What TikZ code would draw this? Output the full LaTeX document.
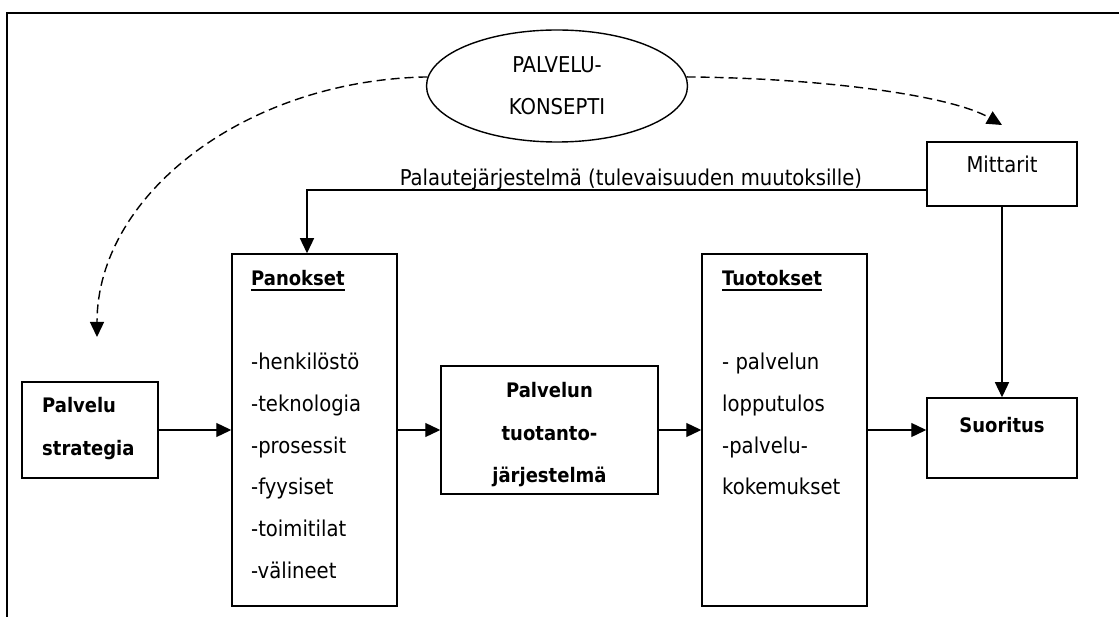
\documentclass[tikz,border=0pt]{standalone}
\usepackage{fontspec}
\setmainfont{DejaVu Sans Condensed}
\usetikzlibrary{arrows.meta,shapes.geometric,calc}

% underlined word with a heavier rule
\newcommand\ulword[1]{\setbox0\hbox{#1}\rlap{\rule[-5pt]{\wd0}{1.8pt}}\box0}

\begin{document}
\begin{tikzpicture}[x=1pt,y=-1pt,
  every node/.style={font=\fontsize{21.8}{42}\selectfont},
  box/.style={draw, line width=1.5pt, inner sep=0pt},
  txt/.style={inner sep=0pt},
  bold/.style={inner sep=0pt, font=\fontsize{20}{42}\selectfont\bfseries},
  arr/.style={line width=1.3pt, -{Triangle[length=15pt,width=14pt]}},
  dashlink/.style={line width=1.4pt, dash pattern=on 9pt off 5pt, -{Triangle[length=15pt,width=14pt]}}]

\useasboundingbox (0,0) rectangle (1119,617);
\draw[line width=1.7pt] (7,640) -- (7,13) -- (1140,13);

% service concept
\node[ellipse, draw, line width=1.4pt, minimum width=261pt, minimum height=112pt,
      inner sep=0pt, align=center] (kon) at (557,86) {PALVELU-\\KONSEPTI};

% boxes
\node[box, minimum width=136pt, minimum height=96pt]  (strat) at (90,430) {};
\node[box, minimum width=165pt, minimum height=352pt] (pan)   at (314.5,430) {};
\node[box, minimum width=217pt, minimum height=128pt] (prod)  at (549.5,430) {};
\node[box, minimum width=165pt, minimum height=352pt] (tuo)   at (784.5,430) {};
\node[box, minimum width=150pt, minimum height=64pt]  (mit)   at (1002,174) {};
\node[box, minimum width=150pt, minimum height=80pt]  (suo)   at (1002,438) {};

% box texts
\node[bold, anchor=base west] (strat1) at (42,413) {Palvelu};
\node[bold, anchor=base west] (strat2) at (42,455) {strategia};

\node[bold, anchor=base west] (pant) at (251,286) {\ulword{Panokset}};
\foreach \t [count=\i from 0] in {-henkilöstö,-teknologia,-prosessit,-fyysiset,-toimitilat,-välineet}
  \node[txt, anchor=base west] (pan\i) at (251,370+41.6*\i) {\t};

\node[bold, anchor=base] (prod1) at (549.5,398) {Palvelun};
\node[bold, anchor=base] (prod2) at (549.5,440) {tuotanto-};
\node[bold, anchor=base] (prod3) at (549.5,482) {järjestelmä};

\node[bold, anchor=base west] (tuot) at (722,286) {\ulword{Tuotokset}};
\foreach \t [count=\i from 0] in {- palvelun,lopputulos,-palvelu-,kokemukset}
  \node[txt, anchor=base west] (tuo\i) at (722,370+41.5*\i) {\t};

\node[txt, anchor=base] (mitt) at (1002,173) {Mittarit};
\node[bold, anchor=base] (suot) at (1002,432) {Suoritus};

% main flow
\draw[arr] (strat) -- (pan);
\draw[arr] (pan) -- (prod);
\draw[arr] (prod) -- (tuo);
\draw[arr] (tuo.east) -- (tuo.east -| suo.west);
\draw[arr] (mit) -- (suo);

% feedback loop
\coordinate (fbk) at (307,190);
\draw[arr] (mit.west |- fbk) -- (fbk) -- (fbk |- pan.north);
\node[txt, anchor=base] (fblabel) at (631,186) {Palautejärjestelmä (tulevaisuuden muutoksille)};

% concept influence
\coordinate (tipL) at (97,337);
\coordinate (tipR) at (1002,125);
\draw[dashlink] (kon.176) .. controls (245,80) and (97,195) .. (tipL);
\draw[dashlink] (kon.4) .. controls (820,78) and (950,95) .. (tipR);
\end{tikzpicture}
\end{document}
